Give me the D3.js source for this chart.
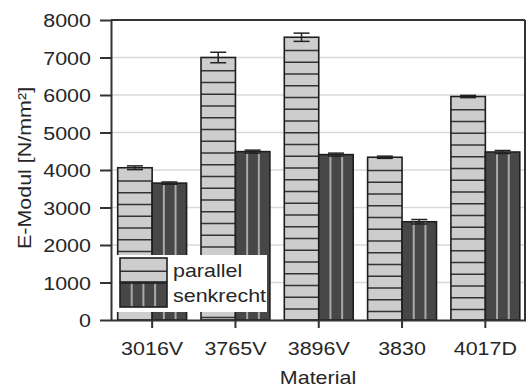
<!DOCTYPE html>
<html>
<head>
<meta charset="utf-8">
<script src="https://cdn.jsdelivr.net/npm/d3@7"></script>
<style>
  body { margin: 0; background: #fff; }
  text { font-family: "Liberation Sans", Arial, sans-serif; fill: #262626; }
</style>
</head>
<body>
<div id="chart"></div>
<script>
'use strict';

var categories = ['3016V', '3765V', '3896V', '3830', '4017D'];
var series = ['parallel', 'senkrecht'];
var parallel = [4060, 7000, 7540, 4340, 5960];
var parallelErr = [50, 140, 110, 30, 30];
var senkrecht = [3650, 4490, 4410, 2620, 4480];
var senkrechtErr = [30, 40, 40, 60, 40];
var yTicks = [0, 1000, 2000, 3000, 4000, 5000, 6000, 7000, 8000];

var width = 526, height = 389;
var plotLeft = 111, plotRight = 525, plotTop = 20, plotBottom = 320;
var stretch = 'scale(1.13,1)';

var svg = d3.select('#chart')
            .append('svg')
            .attr('width', width)
            .attr('height', height);

var y = d3.scaleLinear().domain([0, 8000]).range([plotBottom, plotTop]);
var x = d3.scaleBand().domain(categories).range([110.5, 527]);
var bw = x.bandwidth();
var xSub = d3.scaleBand().domain(series).range([7.2, bw - 7.2]);

// grid lines
svg.append('g')
   .selectAll('line')
   .data(yTicks.slice(1, -1))
   .join('line')
   .attr('x1', plotLeft)
   .attr('x2', plotRight)
   .attr('y1', function(d) { return y(d); })
   .attr('y2', function(d) { return y(d); })
   .attr('stroke', '#d9d9d9')
   .attr('stroke-width', 1.5);

var rows = categories.map(function(c, i) {
  return [
    { cat: c, key: 'parallel', value: parallel[i], err: parallelErr[i] },
    { cat: c, key: 'senkrecht', value: senkrecht[i], err: senkrechtErr[i] }
  ];
});
var bars = d3.merge(rows);

// draw one hatched box (used by bars and legend)
var hatch = function(g, x0, y0, w, h, key) {
  g.append('rect')
   .attr('x', x0).attr('y', y0).attr('width', w).attr('height', h)
   .attr('fill', key === 'parallel' ? '#cdcdcd' : '#474747');
  if (key === 'parallel') {
    d3.range(y0 + 1.5 + 11.75, y0 + h - 2, 11.75).forEach(function(ly) {
      g.append('line')
       .attr('x1', x0).attr('x2', x0 + w)
       .attr('y1', ly).attr('y2', ly)
       .attr('stroke', '#333').attr('stroke-width', 1.6);
    });
  } else {
    d3.range(x0 + 11.7, x0 + w - 3, 11.7).forEach(function(lx) {
      g.append('line')
       .attr('x1', lx).attr('x2', lx)
       .attr('y1', y0).attr('y2', y0 + h)
       .attr('stroke', '#a9a9a9').attr('stroke-width', 2);
    });
  }
  g.append('rect')
   .attr('x', x0).attr('y', y0).attr('width', w).attr('height', h)
   .attr('fill', 'none').attr('stroke', '#1e1e1e').attr('stroke-width', 1.6);
};

var barLayer = svg.append('g');
bars.forEach(function(d) {
  var bx = x(d.cat) + xSub(d.key);
  hatch(barLayer, bx, y(d.value), xSub.bandwidth(), plotBottom - y(d.value), d.key);
});

// error bars
var errLayer = svg.append('g')
                  .attr('stroke', '#222')
                  .attr('stroke-width', 1.5);
bars.forEach(function(d) {
  var cx = x(d.cat) + xSub(d.key) + xSub.bandwidth() / 2;
  errLayer.append('line')
          .attr('x1', cx).attr('x2', cx)
          .attr('y1', y(d.value + d.err)).attr('y2', y(d.value - d.err));
  [d.value + d.err, d.value - d.err].forEach(function(v) {
    errLayer.append('line')
            .attr('x1', cx - 8).attr('x2', cx + 8)
            .attr('y1', y(v)).attr('y2', y(v));
  });
});

// frame top / right
svg.append('line')
   .attr('x1', plotLeft).attr('x2', plotRight).attr('y1', plotTop).attr('y2', plotTop)
   .attr('stroke', '#333').attr('stroke-width', 2);
svg.append('line')
   .attr('x1', plotRight).attr('x2', plotRight).attr('y1', plotTop).attr('y2', plotBottom)
   .attr('stroke', '#333').attr('stroke-width', 2);

// Y axis
var yAxis = svg.append('g')
               .attr('transform', 'translate(' + plotLeft + ',0)')
               .call(d3.axisLeft(y).tickValues(yTicks).tickFormat(d3.format('d'))
                       .tickSize(11).tickSizeOuter(0));
yAxis.select('.domain').attr('stroke', '#333').attr('stroke-width', 2);
yAxis.selectAll('.tick line').attr('stroke', '#333').attr('stroke-width', 2);
yAxis.selectAll('.tick text')
     .attr('x', 0)
     .attr('dy', '0.35em')
     .attr('transform', 'translate(-20,0) ' + stretch)
     .style('font-size', '19px')
     .attr('fill', '#262626');

// X axis
var xAxis = svg.append('g')
               .attr('transform', 'translate(0,' + plotBottom + ')')
               .call(d3.axisBottom(x).tickSize(8).tickSizeOuter(0));
xAxis.select('.domain').attr('stroke', '#333').attr('stroke-width', 2);
xAxis.selectAll('.tick line').attr('stroke', '#333').attr('stroke-width', 2);
xAxis.selectAll('.tick text')
     .attr('y', 0)
     .attr('dy', null)
     .attr('transform', 'translate(0,35) ' + stretch)
     .style('font-size', '19px')
     .attr('fill', '#262626');

// axis titles
svg.append('text')
   .attr('transform', 'translate(318,384) ' + stretch)
   .attr('text-anchor', 'middle')
   .style('font-size', '19px')
   .text('Material');

svg.append('text')
   .attr('transform', 'translate(31,168) rotate(-90) ' + stretch)
   .attr('text-anchor', 'middle')
   .style('font-size', '19px')
   .text('E-Modul [N/mm²]');

// legend
var legend = svg.append('g');
legend.append('rect')
      .attr('x', 113).attr('y', 255).attr('width', 154).attr('height', 57)
      .attr('fill', '#fff');
series.forEach(function(key, i) {
  var ly = 258 + i * 25;
  hatch(legend, 120, ly, 47, 24, key);
  legend.append('text')
        .attr('transform', 'translate(173,' + (ly + 19) + ') ' + stretch)
        .style('font-size', '19px')
        .text(key);
});
</script>
</body>
</html>
